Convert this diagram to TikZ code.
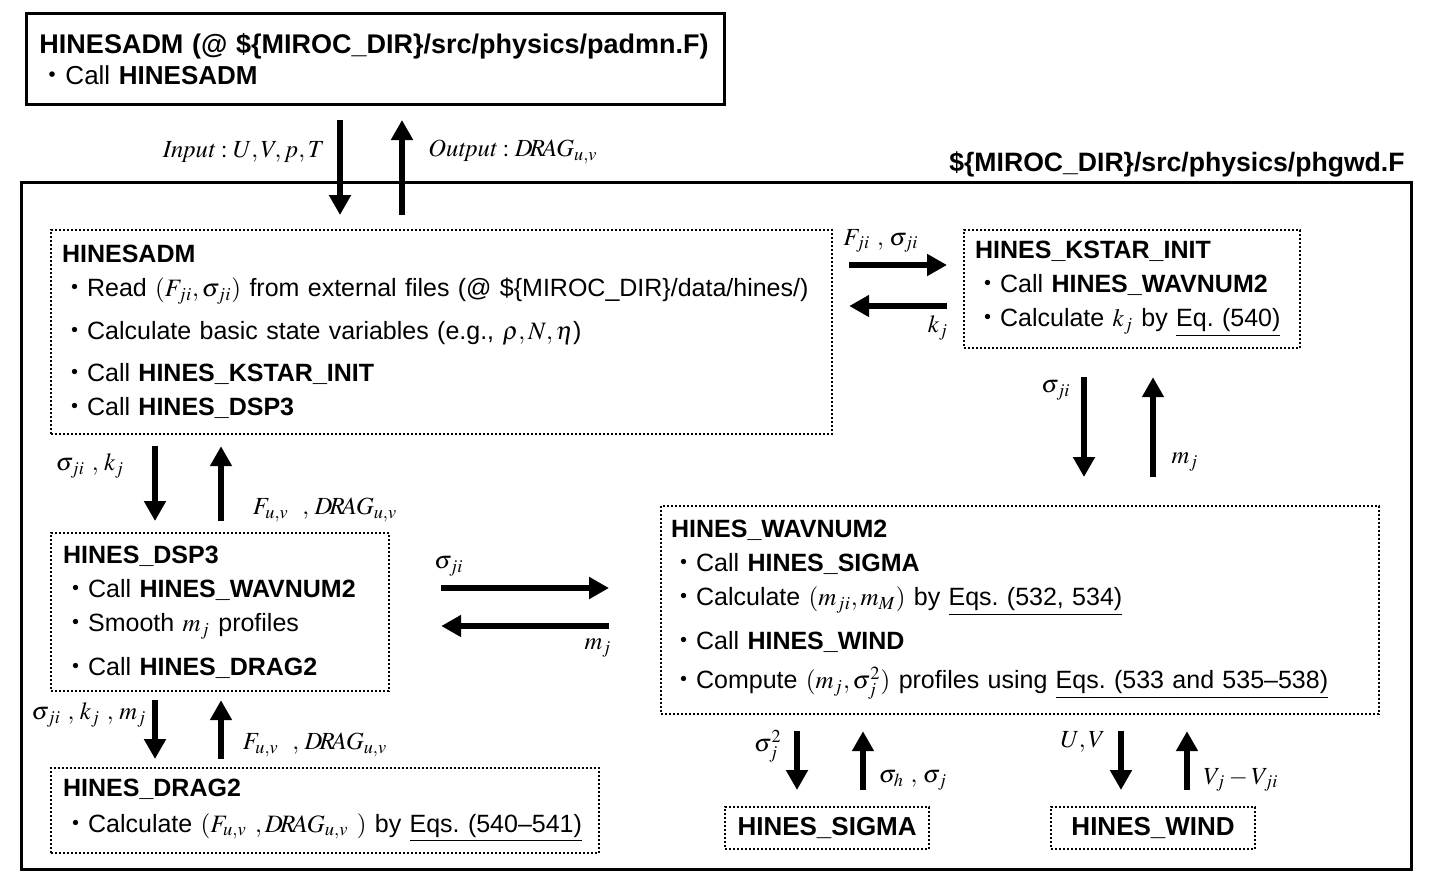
\documentclass[tikz,border=0pt]{standalone}
\usepackage{mathptmx}
\usepackage{fontspec}
\setmainfont{Liberation Sans}
\newfontfamily\cjk{Noto Sans CJK JP}
\usetikzlibrary{arrows.meta}
\newcommand{\itm}{{\cjk ・}}

\begin{document}
\begin{tikzpicture}[x=0.5pt,y=-0.5pt,
    frm/.style={draw,line width=1.5pt,anchor=north west,align=left,inner xsep=6.5pt,inner ysep=0pt,font=\fontsize{13}{17}\selectfont},
    blk/.style={draw,line width=1.1pt,dash pattern=on 1pt off 1pt,anchor=north west,align=left,inner xsep=6pt,inner ysep=0pt,font=\fontsize{12.5}{17}\selectfont},
    arr/.style={line width=2.6pt,-{Triangle[length=10pt,width=10.5pt]}},
    gapped/.style={shorten <=#1,shorten >=#1},
    lbl/.style={font=\fontsize{12.3}{15}\selectfont,inner sep=0pt}]
  \useasboundingbox (0,0) rectangle (1431,891);
  % caller outside phgwd.F
  \node[frm,text width=336pt,minimum height=45.5pt] (top) at (25,12)
    {{\fontsize{13.5}{17}\selectfont\textbf{HINESADM (@ \$\{MIROC\_DIR\}/src/physics/padmn.F)}}\\[-1.5pt]
     \itm Call \textbf{HINESADM}};
  % phgwd.F frame
  \node[draw,line width=1.5pt,anchor=north west,minimum width=695pt,minimum height=343.5pt,inner sep=0pt] (phg) at (20,181) {};
  \node[anchor=base east,font=\fontsize{13.3}{15}\selectfont\bfseries,inner sep=0pt] (phgname) at (1405,171)
    {\$\{MIROC\_DIR\}/src/physics/phgwd.F};
  % routines
  \node[blk,text width=379.5pt,minimum height=102pt,inner xsep=5.5pt] (adm) at (50,229)
    {\textbf{HINESADM}\\
     \itm Read \((F_{ji},\sigma_{ji})\) from external files (@ \$\{MIROC\_DIR\}/data/hines/)\\[4.5pt]
     \itm Calculate basic state variables (e.g., \(\rho,N,\eta\))\\[4pt]
     \itm Call \textbf{HINES\_KSTAR\_INIT}\\
     \itm Call \textbf{HINES\_DSP3}};
  \node[blk,text width=157pt,minimum height=59pt,inner xsep=5.5pt] (kstar) at (963,229)
    {\textbf{HINES\_KSTAR\_INIT}\\
     \itm Call \textbf{HINES\_WAVNUM2}\\
     \itm Calculate \(k_j\) by \underline{Eq.\ (540)}};
  \node[blk,text width=157pt,minimum height=79pt] (dsp) at (50,532)
    {\textbf{HINES\_DSP3}\\
     \itm Call \textbf{HINES\_WAVNUM2}\\
     \itm Smooth \(m_j\) profiles\\[5pt]
     \itm Call \textbf{HINES\_DRAG2}};
  \node[blk,text width=262pt,minimum height=42.5pt] (drag) at (50,767)
    {\textbf{HINES\_DRAG2}\\[1pt]
     \itm Calculate \((F_{u,v}\ ,D\!R\!AG_{u,v}\ )\) by \underline{Eqs.\ (540--541)}};
  \node[blk,text width=349pt,minimum height=104pt,inner xsep=5pt] (wav) at (660,505)
    {\textbf{HINES\_WAVNUM2}\\
     \itm Call \textbf{HINES\_SIGMA}\\
     \itm Calculate \((m_{ji},m_M)\) by \underline{Eqs.\ (532, 534)}\\[5pt]
     \itm Call \textbf{HINES\_WIND}\\[2.5pt]
     \itm Compute \((m_j,\sigma_j^2)\) profiles using \underline{Eqs.\ (533 and 535--538)}};
  \node[blk,text width=90pt,minimum height=21pt,align=center,font=\fontsize{13}{15}\selectfont\bfseries] (sig) at (724,806) {HINES\_SIGMA};
  \node[blk,text width=90pt,minimum height=21pt,align=center,font=\fontsize{13}{15}\selectfont\bfseries] (wind) at (1050,806) {HINES\_WIND};
  % arrow columns and rows
  \coordinate (xa) at (340,0);  \coordinate (xb) at (402,0);
  \coordinate (xc) at (155,0);  \coordinate (xd) at (221,0);
  \coordinate (xe) at (1084,0); \coordinate (xf) at (1153,0);
  \coordinate (xg) at (797,0);  \coordinate (xh) at (863,0);
  \coordinate (xi) at (1121,0); \coordinate (xj) at (1187,0);
  \coordinate (ya) at (0,265);  \coordinate (yb) at (0,306);
  \coordinate (yc) at (0,588);  \coordinate (yd) at (0,626);
  % top <-> HINESADM
  \draw[arr,gapped=7pt] (top.south -| xa) -- (adm.north -| xa);
  \draw[arr,gapped=7pt] (adm.north -| xb) -- (top.south -| xb);
  \node[lbl,anchor=east] (lin) at (325,152) {\(\mathit{Input}:U,V,p,T\)};
  \node[lbl,anchor=west] (lout) at (428,152) {\(\mathit{Output}:D\!R\!AG_{u,v}\)};
  % HINESADM <-> KSTAR_INIT
  \draw[arr,gapped=8pt] (adm.east |- ya) -- (kstar.west |- ya);
  \draw[arr,gapped=8pt] (kstar.west |- yb) -- (adm.east |- yb);
  \node[lbl] (l1) at (881,241) {\(F_{ji}\ ,\,\sigma_{ji}\)};
  \node[lbl] (l2) at (938,328) {\(k_j\)};
  % KSTAR_INIT <-> WAVNUM2
  \draw[arr,gapped=14pt] (kstar.south -| xe) -- (wav.north -| xe);
  \draw[arr,gapped=14pt] (wav.north -| xf) -- (kstar.south -| xf);
  \node[lbl] (l3) at (1056,390) {\(\sigma_{ji}\)};
  \node[lbl] (l4) at (1185,462) {\(m_j\)};
  % HINESADM <-> DSP3
  \draw[arr,gapped=5.5pt] (adm.south -| xc) -- (dsp.north -| xc);
  \draw[arr,gapped=5.5pt] (dsp.north -| xd) -- (adm.south -| xd);
  \node[lbl] (l5) at (90,466) {\(\sigma_{ji}\ ,\,k_j\)};
  \node[lbl] (l6) at (325,510) {\(F_{u,v}\ \ ,\,D\!R\!AG_{u,v}\)};
  % DSP3 <-> WAVNUM2
  \draw[arr,gapped=25.5pt] (dsp.east |- yc) -- (wav.west |- yc);
  \draw[arr,gapped=25.5pt] (wav.west |- yd) -- (dsp.east |- yd);
  \node[lbl] (l7) at (449,566) {\(\sigma_{ji}\)};
  \node[lbl] (l8) at (598,648) {\(m_j\)};
  % DSP3 <-> DRAG2
  \draw[arr,gapped=4pt] (dsp.south -| xc) -- (drag.north -| xc);
  \draw[arr,gapped=4pt] (drag.north -| xd) -- (dsp.south -| xd);
  \node[lbl] (l9) at (89,715) {\(\sigma_{ji}\ ,\,k_j\ ,\,m_j\)};
  \node[lbl] (l10) at (315,745) {\(F_{u,v}\ \ ,\,D\!R\!AG_{u,v}\)};
  % WAVNUM2 <-> SIGMA, WIND
  \draw[arr,gapped=8pt] (wav.south -| xg) -- (sig.north -| xg);
  \draw[arr,gapped=8pt] (sig.north -| xh) -- (wav.south -| xh);
  \node[lbl] (l11) at (768,746) {\(\sigma_j^2\)};
  \node[lbl] (l12) at (913,780) {\(\sigma_h\ ,\,\sigma_j\)};
  \draw[arr,gapped=8pt] (wav.south -| xi) -- (wind.north -| xi);
  \draw[arr,gapped=8pt] (wind.north -| xj) -- (wav.south -| xj);
  \node[lbl] (l13) at (1083,742) {\(U,V\)};
  \node[lbl] (l14) at (1241,780) {\(V_j-V_{ji}\)};
\end{tikzpicture}
\end{document}
